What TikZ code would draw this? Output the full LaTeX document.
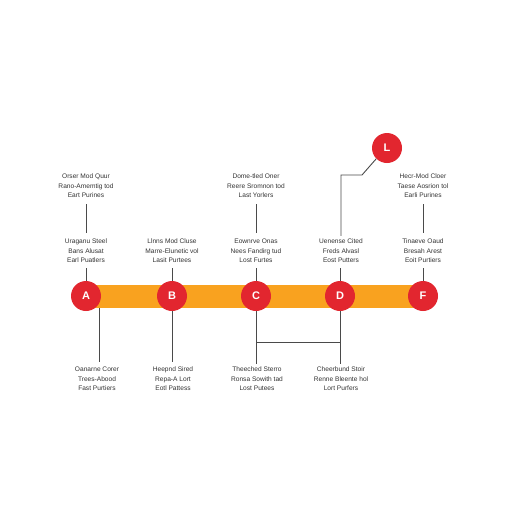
\documentclass[tikz,border=0pt]{standalone}
\usepackage{fontspec}
\setmainfont{Liberation Sans}
\definecolor{barorange}{HTML}{F9A21F}
\definecolor{dotred}{HTML}{E2262F}
\definecolor{txtgray}{HTML}{333333}
\definecolor{linegray}{HTML}{4A4A4A}
\tikzset{
  lbl/.style={align=center, font=\fontsize{6.6}{9.6}\selectfont, text=txtgray, inner sep=0pt},
  dot/.style={circle, fill=dotred, minimum size=30pt, inner sep=0pt, text=white, font=\bfseries\fontsize{11}{11}\selectfont},
  conn/.style={draw=linegray, line width=0.9pt},
}
\begin{document}
\begin{tikzpicture}[x=1pt,y=-1pt]
\useasboundingbox (0,0) rectangle (512,512);
\fill[white] (0,0) rectangle (512,512);

% top labels
\node[lbl] (tA) at (86,186) {Orser Mod Quur\\Rano-Amemtig tod\\Eart Purines};
\node[lbl] (tC) at (256,186) {Dome-tled Oner\\Reere Sromnon tod\\Last Yorlers};
\node[lbl] (tF) at (423,186) {Hecr-Mod Cloer\\Taese Aosrion tol\\Earli Purines};

% middle labels
\node[lbl] (mA) at (86,251) {Uraganu Steel\\Bans Alusat\\Earl Puatlers};
\node[lbl] (mB) at (172,251) {Llnns Mod Cluse\\Marre-Elunetic vol\\Lasit Purtees};
\node[lbl] (mC) at (256,251) {Eownrve Onas\\Nees Fandirg tud\\Lost Furtes};
\node[lbl] (mD) at (341,251) {Uenense Cited\\Freds Alvasl\\Eost Putters};
\node[lbl] (mF) at (423,251) {Tinaeve Oaud\\Bresah Arest\\Eoit Purtiers};

% bottom labels
\node[lbl] (bA) at (97,379) {Oanarne Corer\\Trees-Abood\\Fast Purtiers};
\node[lbl] (bB) at (173,379) {Heepnd Sired\\Repa-A Lort\\Eotl Pattess};
\node[lbl] (bC) at (257,379) {Theeched Sterro\\Ronsa Sowith tad\\Lost Putees};
\node[lbl] (bD) at (341,379) {Cheerbund Stoir\\Renne Bleente hol\\Lort Purfers};

% circle centres
\coordinate (pA) at (86,296);
\coordinate (pB) at (172,296);
\coordinate (pC) at (256,296);
\coordinate (pD) at (340,296);
\coordinate (pF) at (423,296);

% connectors top -> middle
\draw[conn] ([yshift=-6pt]tA.south) -- ([yshift=6pt]tA.south |- mA.north);
\draw[conn] ([yshift=-6pt]tC.south) -- ([yshift=6pt]tC.south |- mC.north);
\draw[conn] ([yshift=-6pt]tF.south) -- ([yshift=6pt]tF.south |- mF.north);

% middle -> circles
\foreach \n in {A,B,C,D,F}{
  \draw[conn] ([yshift=-5pt]p\n |- m\n.south) -- (p\n);
}

% lower connectors
\coordinate (qA) at (99,296);
\draw[conn] (qA) -- ([yshift=5pt]qA |- bA.north);
\draw[conn] (pB) -- ([yshift=5pt]pB |- bB.north);
\draw[conn] (pC) -- ([yshift=3pt]pC |- bC.north);
\draw[conn] (pD) -- ([yshift=3pt]pD |- bD.north);
\coordinate (hC) at (256,342);
\coordinate (hD) at (340,342);
\draw[conn] (hC) -- (hD);

% bar
\fill[barorange] (86,284.5) rectangle (423,307.5);

% circles
\node[dot] (cA) at (pA) {A};
\node[dot] (cB) at (pB) {B};
\node[dot] (cC) at (pC) {C};
\node[dot] (cD) at (pD) {D};
\node[dot] (cF) at (pF) {F};
\node[dot] (cL) at (387,148) {L};

% L connector
\coordinate (k1) at (362,175);
\coordinate (k2) at (341,175);
\draw[conn] (cL.225) -- (k1) -- (k2) -- ([yshift=3pt]k2 |- mD.north);
\end{tikzpicture}
\end{document}
